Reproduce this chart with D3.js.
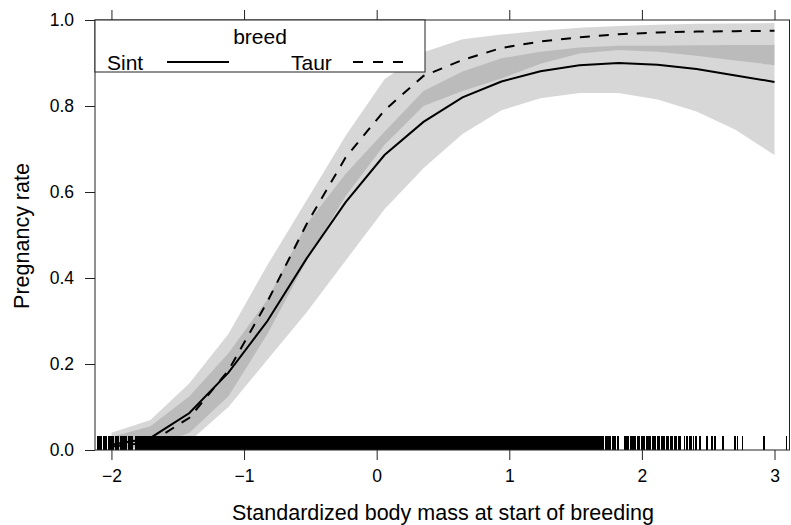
<!DOCTYPE html>
<html>
<head>
<meta charset="utf-8">
<script src="https://cdn.jsdelivr.net/npm/d3@7"></script>
<style>
  html, body { margin: 0; padding: 0; background: #fff; }
  svg text { font-family: "Liberation Sans", Arial, Helvetica, sans-serif; fill: #000; }
</style>
</head>
<body>
<svg id="chart" width="791" height="525"></svg>
<script>
// ---- data ----
const xVals     = [-2, -1.706, -1.412, -1.118, -0.824, -0.529, -0.235, 0.059, 0.353, 0.647, 0.941, 1.235, 1.529, 1.824, 2.118, 2.412, 2.706, 3.0];
const sintFit   = [0.012, 0.028, 0.086, 0.18, 0.30, 0.445, 0.576, 0.686, 0.763, 0.82, 0.857, 0.881, 0.895, 0.90, 0.896, 0.886, 0.871, 0.856];
const sintLower = [0.001, 0.004, 0.02, 0.10, 0.21, 0.32, 0.44, 0.56, 0.655, 0.735, 0.79, 0.818, 0.83, 0.83, 0.815, 0.787, 0.745, 0.686];
const sintUpper = [0.03, 0.055, 0.125, 0.225, 0.35, 0.525, 0.642, 0.74, 0.835, 0.88, 0.911, 0.926, 0.936, 0.94, 0.94, 0.941, 0.942, 0.942];
const taurFit   = [0.008, 0.018, 0.075, 0.185, 0.345, 0.525, 0.68, 0.79, 0.87, 0.907, 0.935, 0.95, 0.96, 0.967, 0.971, 0.973, 0.974, 0.975];
const taurLower = [0.0015, 0.006, 0.04, 0.125, 0.27, 0.44, 0.59, 0.71, 0.80, 0.835, 0.864, 0.898, 0.922, 0.93, 0.926, 0.917, 0.906, 0.895];
const taurUpper = [0.04, 0.07, 0.155, 0.27, 0.43, 0.58, 0.73, 0.862, 0.925, 0.955, 0.966, 0.975, 0.982, 0.986, 0.989, 0.991, 0.992, 0.993];
const seriesNames = ["Sint", "Taur"];
const legendTitle = "breed";
const xTicks = [-2, -1, 0, 1, 2, 3];
const yTicks = [0.0, 0.2, 0.4, 0.6, 0.8, 1.0];
const xTitle = "Standardized body mass at start of breeding";
const yTitle = "Pregnancy rate";
// rug: observed standardized body mass values (in hundredths)
const rugHundredths = [
-210,-209,-208,-206,-205,-204,-202,-201,-200,-199,-197,-196,-195,-193,-192,-191,-190,-189,-187,-186,-185,-184,-182,-181,-180,-179,-178,-177,-176,-175,-174,-173,-172,-171,-170,-169,-168,-167,-166,-165,-164,-163,-162,-161,-160,-159,-158,-157,-156,-155,-154,-153,-152,-151,-150,-149,-148,-147,-146,-145,-144,-143,-142,-141,-140,-139,-138,-137,-136,-135,-134,-133,-132,-131,-130,-129,-128,-127,-126,-125,-124,-123,-122,-121,-120,-119,-118,-117,-116,-115,-114,-113,-112,-111,-110,
-109,-108,-107,-106,-105,-104,-103,-102,-101,-100,-99,-98,-97,-96,-95,-94,-93,-92,-91,-90,-89,-88,-87,-86,-85,-84,-83,-82,-81,-80,-79,-78,-77,-76,-75,-74,-73,-72,-71,-70,-69,-68,-67,-66,-65,-64,-63,-62,-61,-60,-59,-58,-57,-56,-55,-54,-53,-52,-51,-50,-49,-48,-47,-46,-45,-44,-43,-42,-41,-40,-39,-38,-37,-36,-35,-34,-33,-32,-31,-30,-29,-28,-27,-26,-25,-24,-23,-22,-21,-20,-19,-18,-17,-16,-15,-14,-13,-12,-11,-10,-9,-8,-7,-6,-5,-4,-3,-2,-1,
0,1,2,3,4,5,6,7,8,9,10,11,12,13,14,15,16,17,18,19,20,21,22,23,24,25,26,27,28,29,30,31,32,33,34,35,36,37,38,39,40,41,42,43,44,45,46,47,48,49,50,51,52,53,54,55,56,57,58,59,60,61,62,63,64,65,66,67,68,69,70,71,72,73,74,75,76,77,78,79,80,81,82,83,84,85,86,87,88,89,90,91,92,93,94,95,96,97,98,99,
100,101,102,103,104,105,106,107,108,109,110,111,112,113,114,115,116,117,118,119,120,121,122,123,124,125,126,127,128,129,130,131,132,133,134,135,136,137,138,139,140,141,142,143,144,145,146,147,148,149,150,151,152,153,154,155,156,157,158,159,160,161,162,163,164,165,166,167,168,
169,170,171,173,174,175,176,178,179,180,182,187,188,189,190,192,193,194,195,197,198,200,201,202,204,205,206,208,209,210,212,213,215,216,217,219,220,222,223,225,226,228,229,232,234,236,237,239,241,
244,249,253,255,261,270,272,276,292,309
];

// ---- layout ----
const svg = d3.select("#chart");
const M = {left: 95, right: 789.5, top: 20, bottom: 450};
const x = d3.scaleLinear().domain([-2.124, 3.113]).range([M.left, M.right]);
const y = d3.scaleLinear().domain([0, 1]).range([M.bottom, M.top]);

const sint = xVals.map((v, i) => ({x: v, fit: sintFit[i], lo: sintLower[i], hi: sintUpper[i]}));
const taur = xVals.map((v, i) => ({x: v, fit: taurFit[i], lo: taurLower[i], hi: taurUpper[i]}));

const area = d3.area().x(d => x(d.x)).y0(d => y(d.lo)).y1(d => y(d.hi));
const line = d3.line().x(d => x(d.x)).y(d => y(d.fit));

// bands (semi-transparent grey so overlap darkens)
[sint, taur].forEach(s => {
  svg.append("path").datum(s).attr("d", area)
    .attr("fill", "#7f7f7f").attr("fill-opacity", 0.31).attr("stroke", "none");
});

// rug
svg.append("g").attr("shape-rendering", "crispEdges")
  .selectAll("line").data(rugHundredths.map(h => h / 100)).join("line")
  .attr("x1", d => x(d)).attr("x2", d => x(d))
  .attr("y1", M.bottom - 14).attr("y2", M.bottom)
  .attr("stroke", "#000").attr("stroke-width", 1.6);

// fit lines
svg.append("path").datum(sint).attr("d", line)
  .attr("fill", "none").attr("stroke", "#000").attr("stroke-width", 2);
svg.append("path").datum(taur).attr("d", line)
  .attr("fill", "none").attr("stroke", "#000").attr("stroke-width", 2)
  .attr("stroke-dasharray", "10,9");

// frame
svg.append("rect").attr("x", M.left).attr("y", M.top)
  .attr("width", M.right - M.left).attr("height", M.bottom - M.top)
  .attr("fill", "none").attr("stroke", "#222").attr("stroke-width", 1);

// axes
const xAxis = d3.axisBottom(x).tickValues(xTicks).tickSize(10).tickPadding(5)
  .tickFormat(d => d < 0 ? "\u2212" + Math.abs(d) : String(d));
const gx = svg.append("g").attr("transform", `translate(0,${M.bottom})`).call(xAxis);
gx.select(".domain").remove();
gx.selectAll("line").attr("stroke", "#222");
gx.selectAll("text").style("font-size", "17.5px").attr("dy", "0.71em").attr("y", 20);

const xTop = d3.axisTop(x).tickValues(xTicks).tickSize(10).tickFormat("");
const gxt = svg.append("g").attr("transform", `translate(0,${M.top})`).call(xTop);
gxt.select(".domain").remove();
gxt.selectAll("line").attr("stroke", "#222");

const yAxis = d3.axisLeft(y).tickValues(yTicks).tickSize(10).tickPadding(11)
  .tickFormat(d3.format(".1f"));
const gy = svg.append("g").attr("transform", `translate(${M.left},0)`).call(yAxis);
gy.select(".domain").remove();
gy.selectAll("line").attr("stroke", "#222");
gy.selectAll("text").style("font-size", "17.5px");

// axis titles
svg.append("text").attr("x", (x(-2) + x(3)) / 2).attr("y", 520)
  .attr("text-anchor", "middle").style("font-size", "21.5px").text(xTitle);
svg.append("text").attr("transform", `translate(28.5,236) rotate(-90)`)
  .attr("text-anchor", "middle").style("font-size", "21.5px").text(yTitle);

// legend
const lg = svg.append("g");
lg.append("rect").attr("x", M.left).attr("y", M.top).attr("width", 425 - M.left).attr("height", 72 - M.top)
  .attr("fill", "#fff").attr("stroke", "#222").attr("stroke-width", 1);
lg.append("text").attr("x", (M.left + 425) / 2).attr("y", 44).attr("text-anchor", "middle")
  .style("font-size", "21px").text(legendTitle);
const legItems = [
  {name: seriesNames[0], tx: 107, l1: 167, l2: 229, dash: null},
  {name: seriesNames[1], tx: 291, l1: 353, l2: 405, dash: "10,10"}
];
legItems.forEach(it => {
  lg.append("text").attr("x", it.tx).attr("y", 70).style("font-size", "21px").text(it.name);
  lg.append("line").attr("x1", it.l1).attr("x2", it.l2).attr("y1", 62).attr("y2", 62)
    .attr("stroke", "#000").attr("stroke-width", 2).attr("stroke-dasharray", it.dash);
});
</script>
</body>
</html>
